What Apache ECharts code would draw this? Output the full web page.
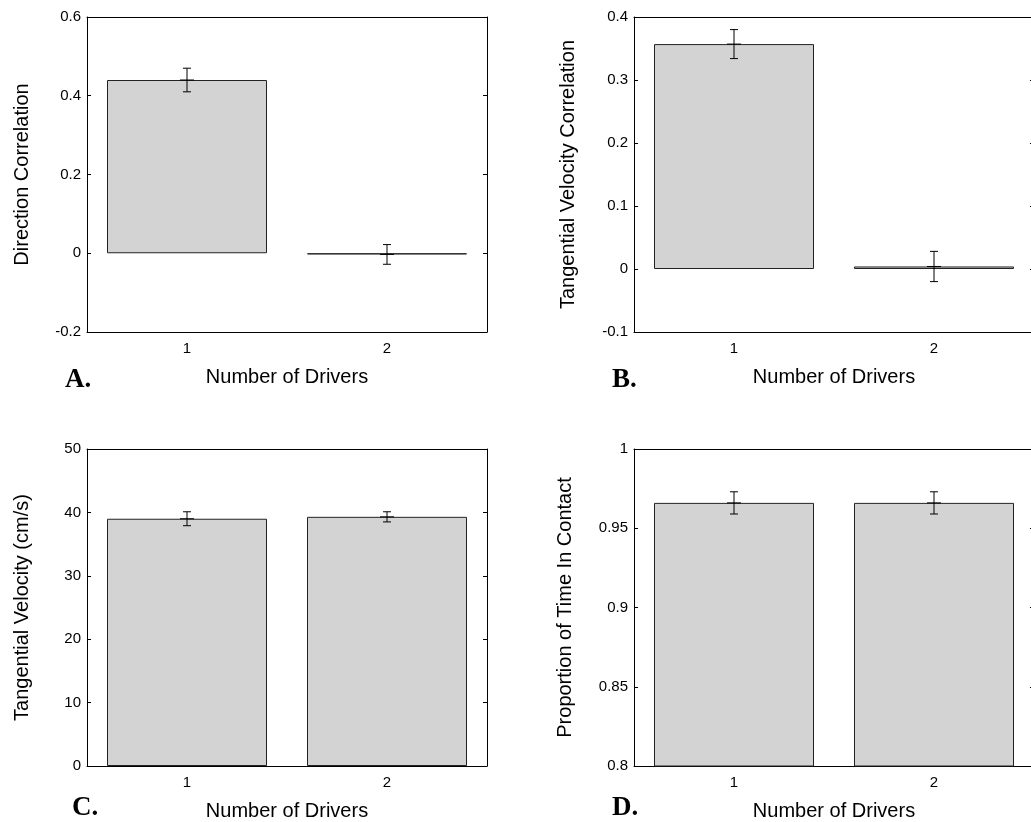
<!DOCTYPE html>
<html>
<head>
<meta charset="utf-8">
<script src="https://cdn.jsdelivr.net/npm/echarts@6/dist/echarts.min.js"></script>
<style>
html,body{margin:0;padding:0;background:#fff;}
#chart{width:1031px;height:822px;}
</style>
</head>
<body>
<div id="chart"></div>
<script>
// ---- data ----
const categories = ['1', '2'];
const xAxisName = 'Number of Drivers';

const dirCorr = [0.44, -0.003];
const dirCorrErr = [0.03, 0.025];

const tanVelCorr = [0.357, 0.004];
const tanVelCorrErr = [0.023, 0.024];

const tanVel = [39.0, 39.3];
const tanVelErr = [1.1, 0.8];

const contact = [0.966, 0.966];
const contactErr = [0.007, 0.007];

const panelNames = ['Direction Correlation', 'Tangential Velocity Correlation', 'Tangential Velocity (cm/s)', 'Proportion of Time In Contact'];
const panelLetters = ['A.', 'B.', 'C.', 'D.'];
const yRanges = [[-0.2, 0.6, 0.2], [-0.1, 0.4, 0.1], [0, 50, 10], [0.8, 1, 0.05]];

const FONT = 'Liberation Sans';

const grids = [
  {left: 87, top: 17, width: 400, height: 315, containLabel: false, outerBoundsMode: 'none'},
  {left: 634, top: 17, width: 400, height: 315, containLabel: false, outerBoundsMode: 'none'},
  {left: 87, top: 449, width: 400, height: 317, containLabel: false, outerBoundsMode: 'none'},
  {left: 634, top: 449, width: 400, height: 317, containLabel: false, outerBoundsMode: 'none'}
];
const values = [dirCorr, tanVelCorr, tanVel, contact];
const errs = [dirCorrErr, tanVelCorrErr, tanVelErr, contactErr];
const yNameGaps = [55, 55.5, 55, 59];

const xAxes = [], yAxes = [], series = [];
grids.forEach((g, i) => {
  const common = {
    type: 'category', data: categories, gridIndex: i, boundaryGap: true,
    axisLine: {onZero: false, lineStyle: {color: '#000', width: 1}},
    axisTick: {inside: true, alignWithLabel: true, length: 4, lineStyle: {color: '#000'}},
    splitLine: {show: false}
  };
  xAxes.push(Object.assign({}, common, {
    position: 'bottom',
    axisLabel: {color: '#000', fontSize: 15, fontFamily: FONT, margin: 9},
    name: xAxisName, nameLocation: 'middle', nameGap: 35,
    nameTextStyle: {color: '#000', fontSize: 20, fontFamily: FONT}
  }));
  xAxes.push(Object.assign({}, common, {position: 'top', axisLabel: {show: false}}));
  const r = yRanges[i];
  const ycommon = {
    type: 'value', gridIndex: i, min: r[0], max: r[1], interval: r[2],
    axisLine: {show: true, onZero: false, lineStyle: {color: '#000', width: 1}},
    axisTick: {show: true, inside: true, length: 4, lineStyle: {color: '#000'}},
    splitLine: {show: false}
  };
  yAxes.push(Object.assign({}, ycommon, {
    position: 'left',
    axisLabel: {color: '#000', fontSize: 15, fontFamily: FONT, margin: 6},
    name: panelNames[i], nameLocation: 'middle', nameGap: yNameGaps[i],
    nameTextStyle: {color: '#000', fontSize: 20, fontFamily: FONT}
  }));
  yAxes.push(Object.assign({}, ycommon, {position: 'right', axisLabel: {show: false}}));

  series.push({
    type: 'bar', xAxisIndex: 2 * i, yAxisIndex: 2 * i,
    data: values[i], barWidth: '80%',
    itemStyle: {color: '#d3d3d3', borderColor: '#222', borderWidth: 1},
    silent: true, animation: false
  });
  series.push({
    type: 'custom', xAxisIndex: 2 * i, yAxisIndex: 2 * i,
    data: values[i].map((v, k) => [k, v, v - errs[i][k], v + errs[i][k]]),
    renderItem: function (params, api) {
      const c = api.coord([api.value(0), api.value(1)]);
      const lo = api.coord([api.value(0), api.value(2)]);
      const hi = api.coord([api.value(0), api.value(3)]);
      const capW = 4, midW = 7;
      const st = {stroke: '#000', lineWidth: 1};
      return {
        type: 'group', children: [
          {type: 'line', shape: {x1: c[0], y1: lo[1], x2: c[0], y2: hi[1]}, style: st},
          {type: 'line', shape: {x1: c[0] - capW, y1: lo[1], x2: c[0] + capW, y2: lo[1]}, style: st},
          {type: 'line', shape: {x1: c[0] - capW, y1: hi[1], x2: c[0] + capW, y2: hi[1]}, style: st},
          {type: 'line', shape: {x1: c[0] - midW, y1: c[1], x2: c[0] + midW, y2: c[1]}, style: st}
        ]
      };
    },
    silent: true, animation: false, z: 5
  });
});

const letterPos = [[65, 367], [612, 367], [72, 795], [612, 795]];
const graphics = panelLetters.map((t, i) => ({
  type: 'text', left: letterPos[i][0], top: letterPos[i][1],
  style: {text: t, fill: '#000', font: 'bold 27px "Liberation Serif"'}
}));

const chart = echarts.init(document.getElementById('chart'), null, {renderer: 'canvas'});
chart.setOption({
  animation: false,
  backgroundColor: '#fff',
  grid: grids,
  xAxis: xAxes,
  yAxis: yAxes,
  series: series,
  graphic: graphics
});
</script>
</body>
</html>
